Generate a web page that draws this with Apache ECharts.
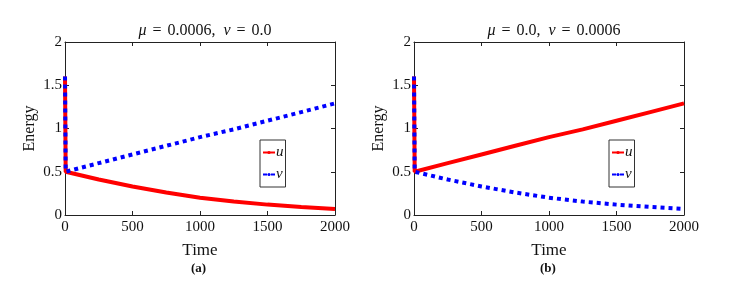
<!DOCTYPE html>
<html><head><meta charset="utf-8">
<script src="https://cdn.jsdelivr.net/npm/echarts@6/dist/echarts.min.js"></script>
<style>html,body{margin:0;padding:0;background:#fff}#c{width:739px;height:284px}</style>
</head><body><div id="c"></div>
<script>
const timeA = [0, 5, 250, 500, 750, 1000, 1250, 1500, 1750, 2000];
const uA = [1.6, 0.5, 0.41, 0.33, 0.26, 0.2, 0.155, 0.12, 0.093, 0.07];
const vA = [1.6, 0.5, 0.6, 0.7, 0.8, 0.9, 0.99, 1.09, 1.19, 1.29];
const timeB = [0, 5, 250, 500, 750, 1000, 1250, 1500, 1750, 2000];
const uB = [1.6, 0.5, 0.6, 0.7, 0.8, 0.9, 0.99, 1.09, 1.19, 1.29];
const vB = [1.6, 0.5, 0.41, 0.33, 0.26, 0.2, 0.155, 0.12, 0.093, 0.07];
const xTicks = [0, 500, 1000, 1500, 2000];
const yTicks = [0, 0.5, 1, 1.5, 2];
const titles = [['0.0006', '0.0'], ['0.0', '0.0006']];
const panelLabels = ['(a)', '(b)'];

const serif = '"Liberation Serif", "DejaVu Serif", serif';
const grids = [{left: 65, top: 42, width: 270, height: 173}, {left: 414, top: 42, width: 270, height: 173}];
const axisColor = '#222';
function pair(t, v) { return t.map((x, i) => [x, v[i]]); }

const xAxis = [], yAxis = [], series = [], title = [], legend = [], graphic = [];
grids.forEach((g, i) => {
  const base = {min: xTicks[0], max: xTicks[xTicks.length - 1], interval: 500, gridIndex: i, splitLine: {show: false},
    axisLine: {show: true, onZero: false, lineStyle: {color: axisColor, width: 1}}, axisTick: {inside: true, length: 4, lineStyle: {color: axisColor}}};
  xAxis.push(Object.assign({}, base, {type: 'value', position: 'bottom', name: 'Time', nameLocation: 'middle', nameGap: 27,
    nameTextStyle: {fontFamily: serif, fontSize: 17, color: '#111'},
    axisLabel: {fontFamily: serif, fontSize: 15, color: '#111', margin: 5, formatter: v => String(v)}}));
  xAxis.push(Object.assign({}, base, {type: 'value', position: 'top', axisLabel: {show: false}}));
  const ybase = {type: 'value', min: yTicks[0], max: yTicks[yTicks.length - 1], interval: 0.5, gridIndex: i, splitLine: {show: false},
    axisLine: {show: true, onZero: false, lineStyle: {color: axisColor, width: 1}}, axisTick: {inside: true, length: 4, lineStyle: {color: axisColor}}};
  yAxis.push(Object.assign({}, ybase, {position: 'left', name: 'Energy', nameLocation: 'middle', nameGap: 27,
    nameTextStyle: {fontFamily: serif, fontSize: 16, color: '#111'},
    axisLabel: {fontFamily: serif, fontSize: 15, color: '#111', margin: 3, formatter: v => String(v)}}));
  yAxis.push(Object.assign({}, ybase, {position: 'right', axisLabel: {show: false}}));
  const t = i === 0 ? timeA : timeB;
  const u = i === 0 ? uA : uB;
  const v = i === 0 ? vA : vB;
  series.push({name: 'u', type: 'line', xAxisIndex: 2 * i, yAxisIndex: 2 * i, data: pair(t, u), showSymbol: false, symbol: 'none', smooth: false,
    lineStyle: {color: '#ff0000', width: 4}, itemStyle: {color: '#ff0000'}, animation: false});
  series.push({name: 'v', type: 'line', xAxisIndex: 2 * i, yAxisIndex: 2 * i, data: pair(t, v), showSymbol: false, symbol: 'none', smooth: false,
    lineStyle: {color: '#0000ff', width: 4, type: [4, 4], cap: 'butt'}, itemStyle: {color: '#0000ff'}, animation: false});
  title.push({text: '{i|μ}{e|=}' + titles[i][0] + ',  {i|ν}{e|=}' + titles[i][1], left: g.left + g.width / 2, top: 18, textAlign: 'center',
    textStyle: {fontFamily: serif, fontSize: 16, fontWeight: 'normal', color: '#111',
      rich: {i: {fontFamily: serif, fontSize: 16, fontStyle: 'italic', color: '#111'},
             e: {fontFamily: serif, fontSize: 16, color: '#111', padding: [0, 6, 0, 6]}}}});
  legend.push({data: ['u', 'v'], orient: 'vertical', left: g.left + 195, top: 140, itemWidth: 12, itemHeight: 4, itemGap: 7,
    padding: [5, 2, 5, 2], borderColor: '#333', borderWidth: 1, backgroundColor: '#fff',
    textStyle: {fontFamily: serif, fontSize: 15, fontStyle: 'italic', color: '#111', padding: [0, 0, 0, -4]}});
  graphic.push({type: 'text', left: g.left + g.width / 2 - 9, top: 262,
    style: {text: panelLabels[i], font: 'bold 13px ' + serif, fill: '#111'}});
});

const chart = echarts.init(document.getElementById('c'));
chart.setOption({animation: false, backgroundColor: '#fff', grid: grids, xAxis, yAxis, series, title, legend, graphic});
</script></body></html>
